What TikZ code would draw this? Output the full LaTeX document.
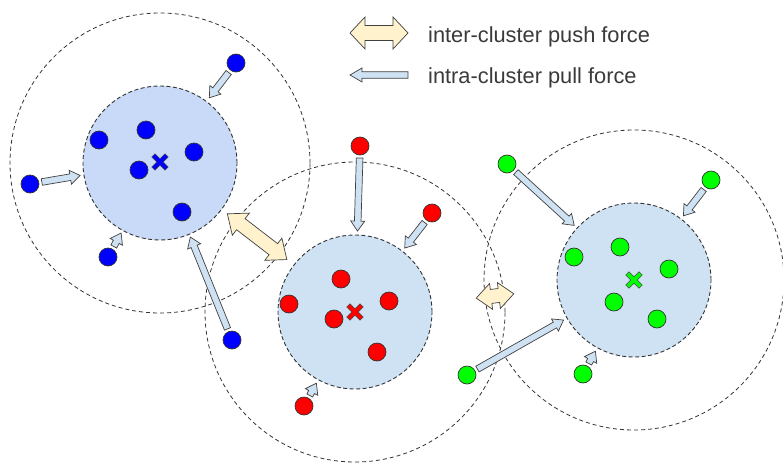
\documentclass[tikz,border=0pt]{standalone}
\usepackage{fontspec}
\setmainfont{Liberation Sans}
\usetikzlibrary{calc,shapes.misc}
\definecolor{bluecore}{HTML}{C9DAF8}
\definecolor{paleblue}{HTML}{CFE2F3}
\definecolor{palecream}{HTML}{FFF2CC}
\definecolor{ptgreen}{HTML}{00FF00}
\definecolor{inkgray}{HTML}{3A3A3A}

% block arrow: style, tail, tip, shaft half width, head half width, head length
\def\blockarrow#1#2#3#4#5#6{%
  \coordinate (hb) at ($(#3)!#6!(#2)$);
  \filldraw[#1] ($(#2)!#4!90:(#3)$) -- ($(hb)!#4!90:(#3)$) -- ($(hb)!#5!90:(#3)$) -- (#3)
    -- ($(hb)!#5!-90:(#3)$) -- ($(hb)!#4!-90:(#3)$) -- ($(#2)!#4!-90:(#3)$) -- cycle;}
% pull from a point towards its cluster centre
\def\pullto#1#2{%
  \coordinate (tl) at ($(#1)!12pt!(#2)$);
  \coordinate (tp) at ($(#2)!81pt!(#1)$);
  \blockarrow{pullarrow}{tl}{tp}{3.3pt}{7pt}{10pt}}
% double block arrow: end a, end b, shaft half width, head half width, head length
\def\pushapart#1#2#3#4#5{%
  \coordinate (ha) at ($(#1)!#5!(#2)$);
  \coordinate (hb) at ($(#2)!#5!(#1)$);
  \filldraw[pusharrow] (#1) -- ($(ha)!#4!90:(#2)$) -- ($(ha)!#3!90:(#2)$) -- ($(hb)!#3!90:(#2)$)
    -- ($(hb)!#4!90:(#2)$) -- (#2) -- ($(hb)!#4!-90:(#2)$) -- ($(hb)!#3!-90:(#2)$)
    -- ($(ha)!#3!-90:(#2)$) -- ($(ha)!#4!-90:(#2)$) -- cycle;}

\begin{document}
\begin{tikzpicture}[x=1pt,y=-1pt,
  pt/.style={circle, draw=black!80, line width=0.7pt, minimum size=18pt, inner sep=0pt},
  bluept/.style={pt, fill=blue},
  redpt/.style={pt, fill=red},
  greenpt/.style={pt, fill=ptgreen},
  core/.style={circle, draw=black!80, dash pattern=on 4pt off 2.5pt, line width=0.9pt, minimum size=154pt, inner sep=0pt},
  reach/.style={circle, draw=black!80, dash pattern=on 4pt off 3pt, line width=0.8pt, minimum size=300pt, inner sep=0pt},
  centre/.style={cross out, draw=#1, line width=3.6pt, line cap=rect, minimum size=6.5pt, inner sep=0pt,
    preaction={draw=black!70, line width=5pt, line cap=rect}},
  pullarrow/.style={draw=black!75, fill=paleblue, line width=0.7pt},
  pusharrow/.style={draw=black!75, fill=palecream, line width=0.7pt},
  keytext/.style={anchor=base west, inner sep=0pt, text=inkgray, font=\fontsize{21.8pt}{26pt}\selectfont}
]
\useasboundingbox (0,0) rectangle (783,466);

% reach of each cluster
\node[reach] (bout) at (160,163) {};
\node[reach] (rout) at (355,312) {};
\node[reach] (gout) at (634,280) {};
% cores
\node[core, fill=bluecore] (bin) at (160,163) {};
\node[core, fill=paleblue] (rin) at (355,312) {};
\node[core, fill=paleblue] (gin) at (634,280) {};
\node[centre=blue] (bc) at (160,162) {};
\node[centre=red] (rc) at (355,312) {};
\node[centre=ptgreen] (gc) at (634,280) {};

% members
\foreach \x/\y [count=\i] in {99/140, 146/130, 194/152, 139/170, 182/212}
  \node[bluept] (b\i) at (\x,\y) {};
\foreach \x/\y [count=\i] in {341/279, 289/304, 389/301, 334/319, 377/352}
  \node[redpt] (r\i) at (\x,\y) {};
\foreach \x/\y [count=\i] in {574/257, 620/247, 669/269, 614/302, 657/319}
  \node[greenpt] (g\i) at (\x,\y) {};

% outliers
\node[bluept] (bo1) at (236,63) {};
\node[bluept] (bo2) at (30,184) {};
\node[bluept] (bo3) at (108,257) {};
\node[bluept] (bo4) at (232,340) {};
\node[redpt] (ro1) at (360,146) {};
\node[redpt] (ro2) at (432,213) {};
\node[redpt] (ro3) at (304,406) {};
\node[greenpt] (go1) at (507,164) {};
\node[greenpt] (go2) at (711,180) {};
\node[greenpt] (go3) at (467,375) {};
\node[greenpt] (go4) at (583,374) {};

% pull forces
\foreach \p in {bo1,bo2,bo3,bo4} \pullto{\p}{bc};
\foreach \p in {ro1,ro2,ro3} \pullto{\p}{rc};
\foreach \p in {go1,go2,go3,go4} \pullto{\p}{gc};

% push forces
\coordinate (br1) at ($(bc)!85pt!(rc)$);
\coordinate (br2) at ($(rc)!86pt!(bc)$);
\pushapart{br1}{br2}{7pt}{14pt}{17pt}
\coordinate (rg1) at ($(rc)!122pt!(gc)$);
\coordinate (rg2) at ($(gc)!121pt!(rc)$);
\pushapart{rg1}{rg2}{7pt}{13pt}{15pt}

% legend
\coordinate (keyPushL) at (350,33);
\coordinate (keyPushR) at (408,33);
\pushapart{keyPushL}{keyPushR}{7.5pt}{16pt}{15pt}
\coordinate (keyPullTail) at (408,75);
\coordinate (keyPullTip) at (350,75);
\blockarrow{pullarrow}{keyPullTail}{keyPullTip}{3.3pt}{7pt}{12pt}
\node[keytext] (pushtext) at (428,42) {inter-cluster push force};
\node[keytext] (pulltext) at (428,83) {intra-cluster pull force};
\end{tikzpicture}
\end{document}
